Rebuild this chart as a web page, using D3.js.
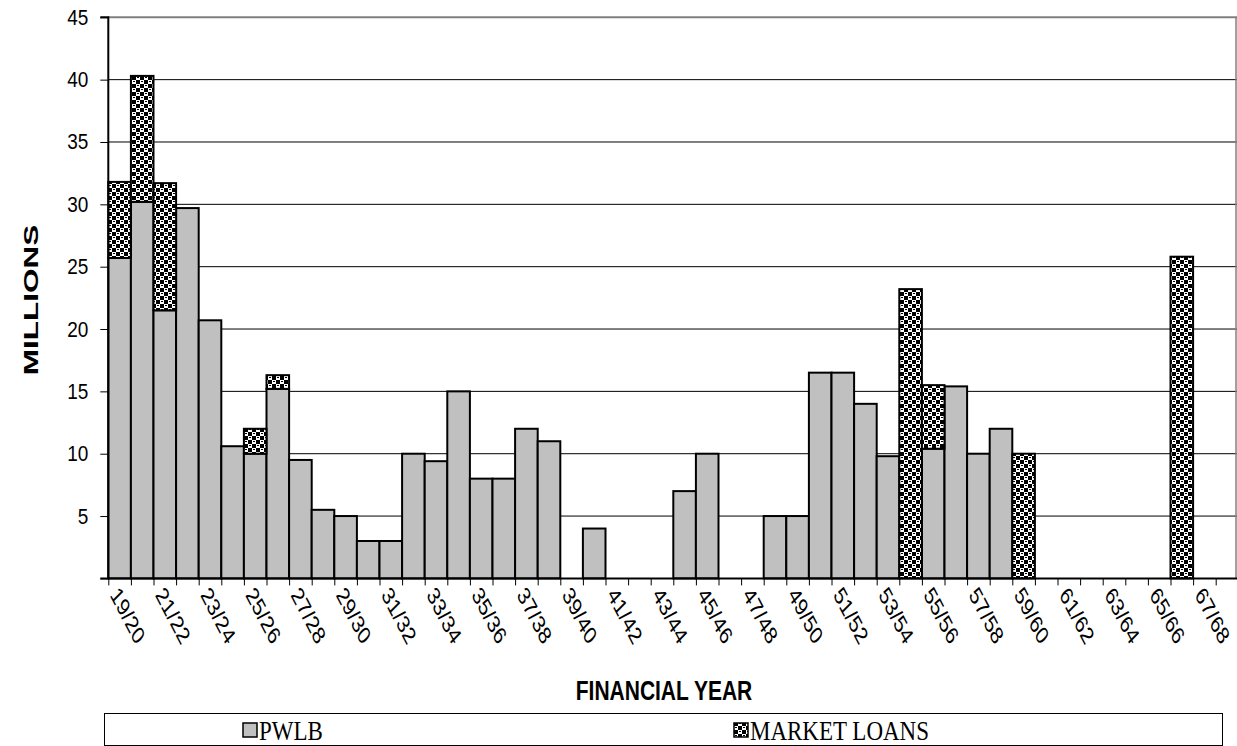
<!DOCTYPE html>
<html>
<head>
<meta charset="utf-8">
<script src="https://cdn.jsdelivr.net/npm/d3@7"></script>
<style>
  body { margin: 0; background: #fff; }
  svg { display: block; }
  .tick text { font-family: "Liberation Sans", Arial, sans-serif; fill: #000; }
</style>
</head>
<body>
<div id="chart"></div>
<script>
// financial years (every second one gets a label)
var years = ["19/20","20/21","21/22","22/23","23/24","24/25","25/26","26/27","27/28","28/29",
  "29/30","30/31","31/32","32/33","33/34","34/35","35/36","36/37","37/38","38/39",
  "39/40","40/41","41/42","42/43","43/44","44/45","45/46","46/47","47/48","48/49",
  "49/50","50/51","51/52","52/53","53/54","54/55","55/56","56/57","57/58","58/59",
  "59/60","60/61","61/62","62/63","63/64","64/65","65/66","66/67","67/68","68/69"];

// millions
var pwlb = [25.7, 30.2, 21.5, 29.7, 20.7, 10.6, 10.0, 15.2, 9.5, 5.5,
  5.0, 3.0, 3.0, 10.0, 9.4, 15.0, 8.0, 8.0, 12.0, 11.0,
  0, 4.0, 0, 0, 0, 7.0, 10.0, 0, 0, 5.0,
  5.0, 16.5, 16.5, 14.0, 9.8, 0, 10.4, 15.4, 10.0, 12.0,
  0, 0, 0, 0, 0, 0, 0, 0, 0, 0];

var marketLoans = [6.1, 10.1, 10.2, 0, 0, 0, 2.0, 1.1, 0, 0,
  0, 0, 0, 0, 0, 0, 0, 0, 0, 0,
  0, 0, 0, 0, 0, 0, 0, 0, 0, 0,
  0, 0, 0, 0, 0, 23.2, 5.1, 0, 0, 0,
  10.0, 0, 0, 0, 0, 0, 0, 25.8, 0, 0];

var yTicks = [5, 10, 15, 20, 25, 30, 35, 40, 45];
var seriesNames = ["PWLB", "MARKET LOANS"];

var svgWidth = 1237, svgHeight = 746;
var plot = { left: 108.3, right: 1238.3, top: 17.3, bottom: 578.4 };

var svg = d3.select("#chart").append("svg")
  .attr("width", svgWidth)
  .attr("height", svgHeight);

// checker pattern for market loans
var defs = svg.append("defs");
var pat = defs.append("pattern")
  .attr("id", "checker")
  .attr("patternUnits", "userSpaceOnUse")
  .attr("width", 8).attr("height", 8);
pat.append("rect").attr("width", 8).attr("height", 8).attr("fill", "#fff");
pat.append("rect").attr("x", 0).attr("y", 0).attr("width", 4).attr("height", 4).attr("fill", "#000");
pat.append("rect").attr("x", 4).attr("y", 4).attr("width", 4).attr("height", 4).attr("fill", "#000");
pat.append("rect").attr("x", 5).attr("y", 1).attr("width", 2).attr("height", 1).attr("fill", "#000");
pat.append("rect").attr("x", 1).attr("y", 5).attr("width", 2).attr("height", 1).attr("fill", "#000");

var fills = { "PWLB": "#c0c0c0", "MARKET LOANS": "url(#checker)" };

var table = years.map(function(y, i) {
  return { year: y, "PWLB": pwlb[i], "MARKET LOANS": marketLoans[i] };
});

var xScale = d3.scaleBand()
  .domain(years)
  .range([plot.left, plot.right])
  .padding(0);

// index scale, used for the tick marks on category boundaries
var xIndex = d3.scaleLinear()
  .domain([0, years.length])
  .range([plot.left, plot.right]);

var yScale = d3.scaleLinear()
  .domain([0, 45])
  .range([plot.bottom, plot.top]);

// gridlines
svg.append("g")
  .selectAll("line")
  .data(yTicks)
  .enter()
  .append("line")
    .attr("x1", plot.left)
    .attr("x2", plot.right)
    .attr("y1", d => yScale(d))
    .attr("y2", d => yScale(d))
    .attr("stroke", d => d === 45 ? "#808080" : "#000")
    .attr("stroke-width", d => d === 45 ? 2 : 1);

// right border of plot area
svg.append("line")
  .attr("x1", 1236).attr("x2", 1236)
  .attr("y1", plot.top).attr("y2", plot.bottom)
  .attr("stroke", "#808080").attr("stroke-width", 1.5);

// stacked bars
var stack = d3.stack().keys(seriesNames);
var layers = stack(table);

svg.append("g")
  .selectAll("g")
  .data(layers)
  .enter()
  .append("g")
    .attr("fill", d => fills[d.key])
  .selectAll("rect")
  .data(d => d.filter(s => s[1] - s[0] > 0))
  .enter()
  .append("rect")
    .attr("x", d => xScale(d.data.year))
    .attr("width", xScale.bandwidth())
    .attr("y", d => yScale(d[1]))
    .attr("height", d => yScale(d[0]) - yScale(d[1]))
    .attr("stroke", "#000")
    .attr("stroke-width", 2);

// y axis
var yAxis = d3.axisLeft(yScale)
  .tickValues([0].concat(yTicks))
  .tickSize(8)
  .tickPadding(12)
  .tickFormat(d => d === 0 ? "" : d);

var yG = svg.append("g")
  .attr("transform", `translate(${plot.left}, 0)`)
  .call(yAxis);
yG.select(".domain").attr("stroke-width", 2).attr("d", `M-8,${plot.top}H0V${plot.bottom}H-8`);
yG.selectAll(".tick text")
  .attr("font-size", 19)
  .attr("dy", null)
  .attr("transform", "translate(0, 7) scale(1, 1.15)");

// x axis: ticks at boundaries
var xAxis = d3.axisBottom(xIndex)
  .tickValues(d3.range(0, years.length))
  .tickSize(7)
  .tickFormat("");

var xG = svg.append("g")
  .attr("transform", `translate(0, ${plot.bottom})`)
  .call(xAxis);
xG.select(".domain").attr("stroke-width", 2).attr("d", `M${plot.left},0H${plot.right}`);

// category labels, every second year (the source picture is stretched vertically)
svg.append("g")
  .selectAll("text")
  .data(years.filter((d, i) => i % 2 === 0))
  .enter()
  .append("text")
    .attr("transform", d => `translate(${xScale(d) + xScale.bandwidth() / 2 - 5}, 590) scale(1, 1.4) rotate(54)`)
    .attr("font-family", "Liberation Sans, Arial, sans-serif")
    .attr("font-size", 18)
    .attr("dy", "0.35em")
    .text(d => d);

// axis titles
svg.append("text")
  .attr("transform", "translate(38, 300) scale(1, 1.5) rotate(-90)")
  .attr("text-anchor", "middle")
  .attr("font-family", "Liberation Sans, Arial, sans-serif")
  .attr("font-weight", "bold")
  .attr("font-size", 21)
  .text("MILLIONS");

svg.append("text")
  .attr("transform", "translate(664, 700) scale(1, 1.3)")
  .attr("text-anchor", "middle")
  .attr("font-family", "Liberation Sans, Arial, sans-serif")
  .attr("font-weight", "bold")
  .attr("font-size", 21)
  .text("FINANCIAL YEAR");

// legend
var legend = svg.append("g");
legend.append("rect")
  .attr("x", 104.5).attr("y", 713.5)
  .attr("width", 1118).attr("height", 32)
  .attr("fill", "#fff")
  .attr("stroke", "#000")
  .attr("stroke-width", 1);

var legendX = { "PWLB": 243, "MARKET LOANS": 734 };
var items = legend.selectAll("g.item")
  .data(seriesNames)
  .enter()
  .append("g")
    .attr("class", "item")
    .attr("transform", d => `translate(${legendX[d]}, 730)`);

items.append("rect")
  .attr("x", 0).attr("y", -7)
  .attr("width", 14).attr("height", 14)
  .attr("fill", d => fills[d])
  .attr("stroke", "#000")
  .attr("stroke-width", 1.5);

items.append("text")
  .attr("transform", "translate(16, 10) scale(1, 1.15)")
  .attr("font-family", "Liberation Serif, Times New Roman, serif")
  .attr("font-size", 23)
  .text(d => d);
</script>
</body>
</html>
